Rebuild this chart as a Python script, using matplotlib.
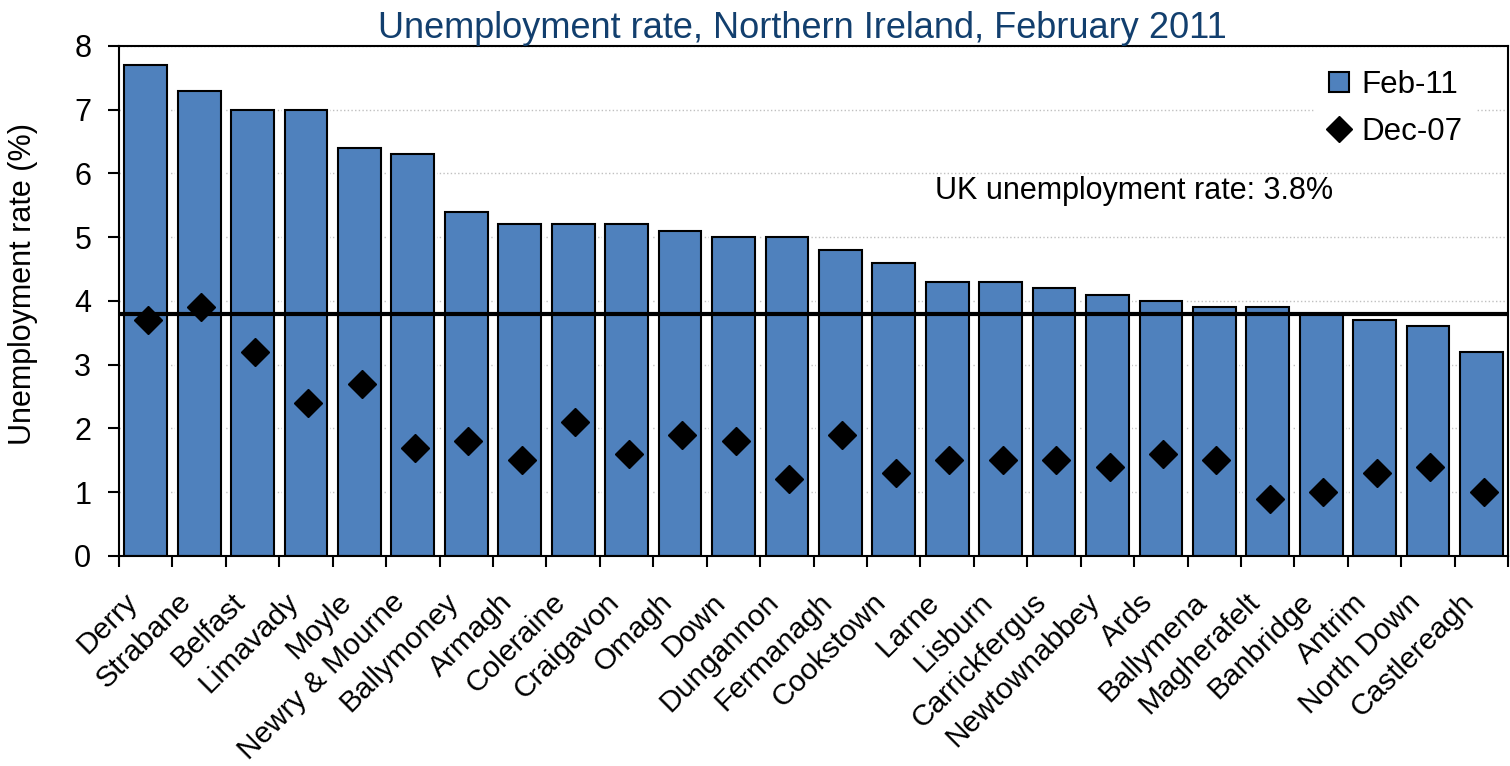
import matplotlib.pyplot as plt
import matplotlib.patheffects as pe
import matplotlib.transforms as mtransforms
from matplotlib.lines import Line2D
import numpy as np

# district unemployment rates (%)
districts = ['Derry', 'Strabane', 'Belfast', 'Limavady', 'Moyle', 'Newry & Mourne',
             'Ballymoney', 'Armagh', 'Coleraine', 'Craigavon', 'Omagh', 'Down',
             'Dungannon', 'Fermanagh', 'Cookstown', 'Larne', 'Lisburn', 'Carrickfergus',
             'Newtownabbey', 'Ards', 'Ballymena', 'Magherafelt', 'Banbridge', 'Antrim',
             'North Down', 'Castlereagh']
feb11 = [7.7, 7.3, 7.0, 7.0, 6.4, 6.3, 5.4, 5.2, 5.2, 5.2, 5.1, 5.0, 5.0, 4.8, 4.6,
         4.3, 4.3, 4.2, 4.1, 4.0, 3.9, 3.9, 3.8, 3.7, 3.6, 3.2]
dec07 = [3.7, 3.9, 3.2, 2.4, 2.7, 1.7, 1.8, 1.5, 2.1, 1.6, 1.9, 1.8, 1.2, 1.9, 1.3,
         1.5, 1.5, 1.5, 1.4, 1.6, 1.5, 0.9, 1.0, 1.3, 1.4, 1.0]
uk_rate = 3.8

plt.rcParams['font.family'] = ['Liberation Sans', 'DejaVu Sans']

bar_color = '#4F81BD'
fig = plt.figure(figsize=(15.1, 7.66), dpi=100)
ax = fig.add_axes([0.0788, 0.2742, 0.92, 0.6658])

x = np.arange(len(districts))
ax.bar(x, feb11, width=0.8, color=bar_color, edgecolor='black', linewidth=1.5, zorder=2,
       path_effects=[pe.Stroke(linewidth=4.5, foreground='white'), pe.Normal()])
ax.plot(x + 0.04, dec07, linestyle='none', marker='D', color='black', markersize=14, zorder=4)
ax.axhline(uk_rate, color='black', linewidth=3, zorder=3)
ax.text(14.78, 5.73, 'UK unemployment rate: %.1f%%' % uk_rate, fontsize=22, va='center')

ax.set_xlim(-0.5, len(districts) - 0.5)
ax.set_ylim(0, 8)
ax.set_yticks(range(9))
ax.yaxis.grid(True, color='#c0c0c0', linestyle=':', linewidth=1, zorder=0)
ax.set_axisbelow(True)

# ticks sit between the categories, labels at the bar centres
ax.set_xticks(np.arange(len(districts) + 1) - 0.5)
ax.set_xticklabels([])
ax.set_xticks(x, minor=True)
ax.set_xticklabels(districts, minor=True, rotation=45, ha='right', va='top',
                   rotation_mode='anchor', fontsize=21.5)
ax.tick_params(axis='x', which='major', length=8, width=1.5)
ax.tick_params(axis='x', which='minor', length=0, pad=23)
shift = mtransforms.ScaledTranslation(-22 / 100, 0, fig.dpi_scale_trans)
for lbl in ax.get_xticklabels(minor=True):
    lbl.set_transform(lbl.get_transform() + shift)
ax.tick_params(axis='y', length=8, width=1.5, labelsize=22, pad=12)
for s in ax.spines.values():
    s.set_linewidth(1.5)

ax.set_ylabel('Unemployment rate (%)', fontsize=22)
ax.yaxis.set_label_coords(-0.058, 0.533)
ax.set_title('Unemployment rate, Northern Ireland, February 2011', fontsize=26,
             color='#123F6E', x=0.492, pad=4)

handles = [Line2D([], [], linestyle='none', marker='s', markersize=15,
                  markerfacecolor=bar_color, markeredgecolor='black', markeredgewidth=1.5),
           Line2D([], [], linestyle='none', marker='D', markersize=13, color='black')]
leg = ax.legend(handles, ['Feb-11', 'Dec-07'], loc='upper right', bbox_to_anchor=(0.987, 1.008),
                fontsize=22.5, frameon=True, fancybox=False, edgecolor='white',
                framealpha=1, handlelength=0.8, handletextpad=0.3, labelspacing=0.55)
leg.set_zorder(5)

fig.savefig('out.png', dpi=100)
